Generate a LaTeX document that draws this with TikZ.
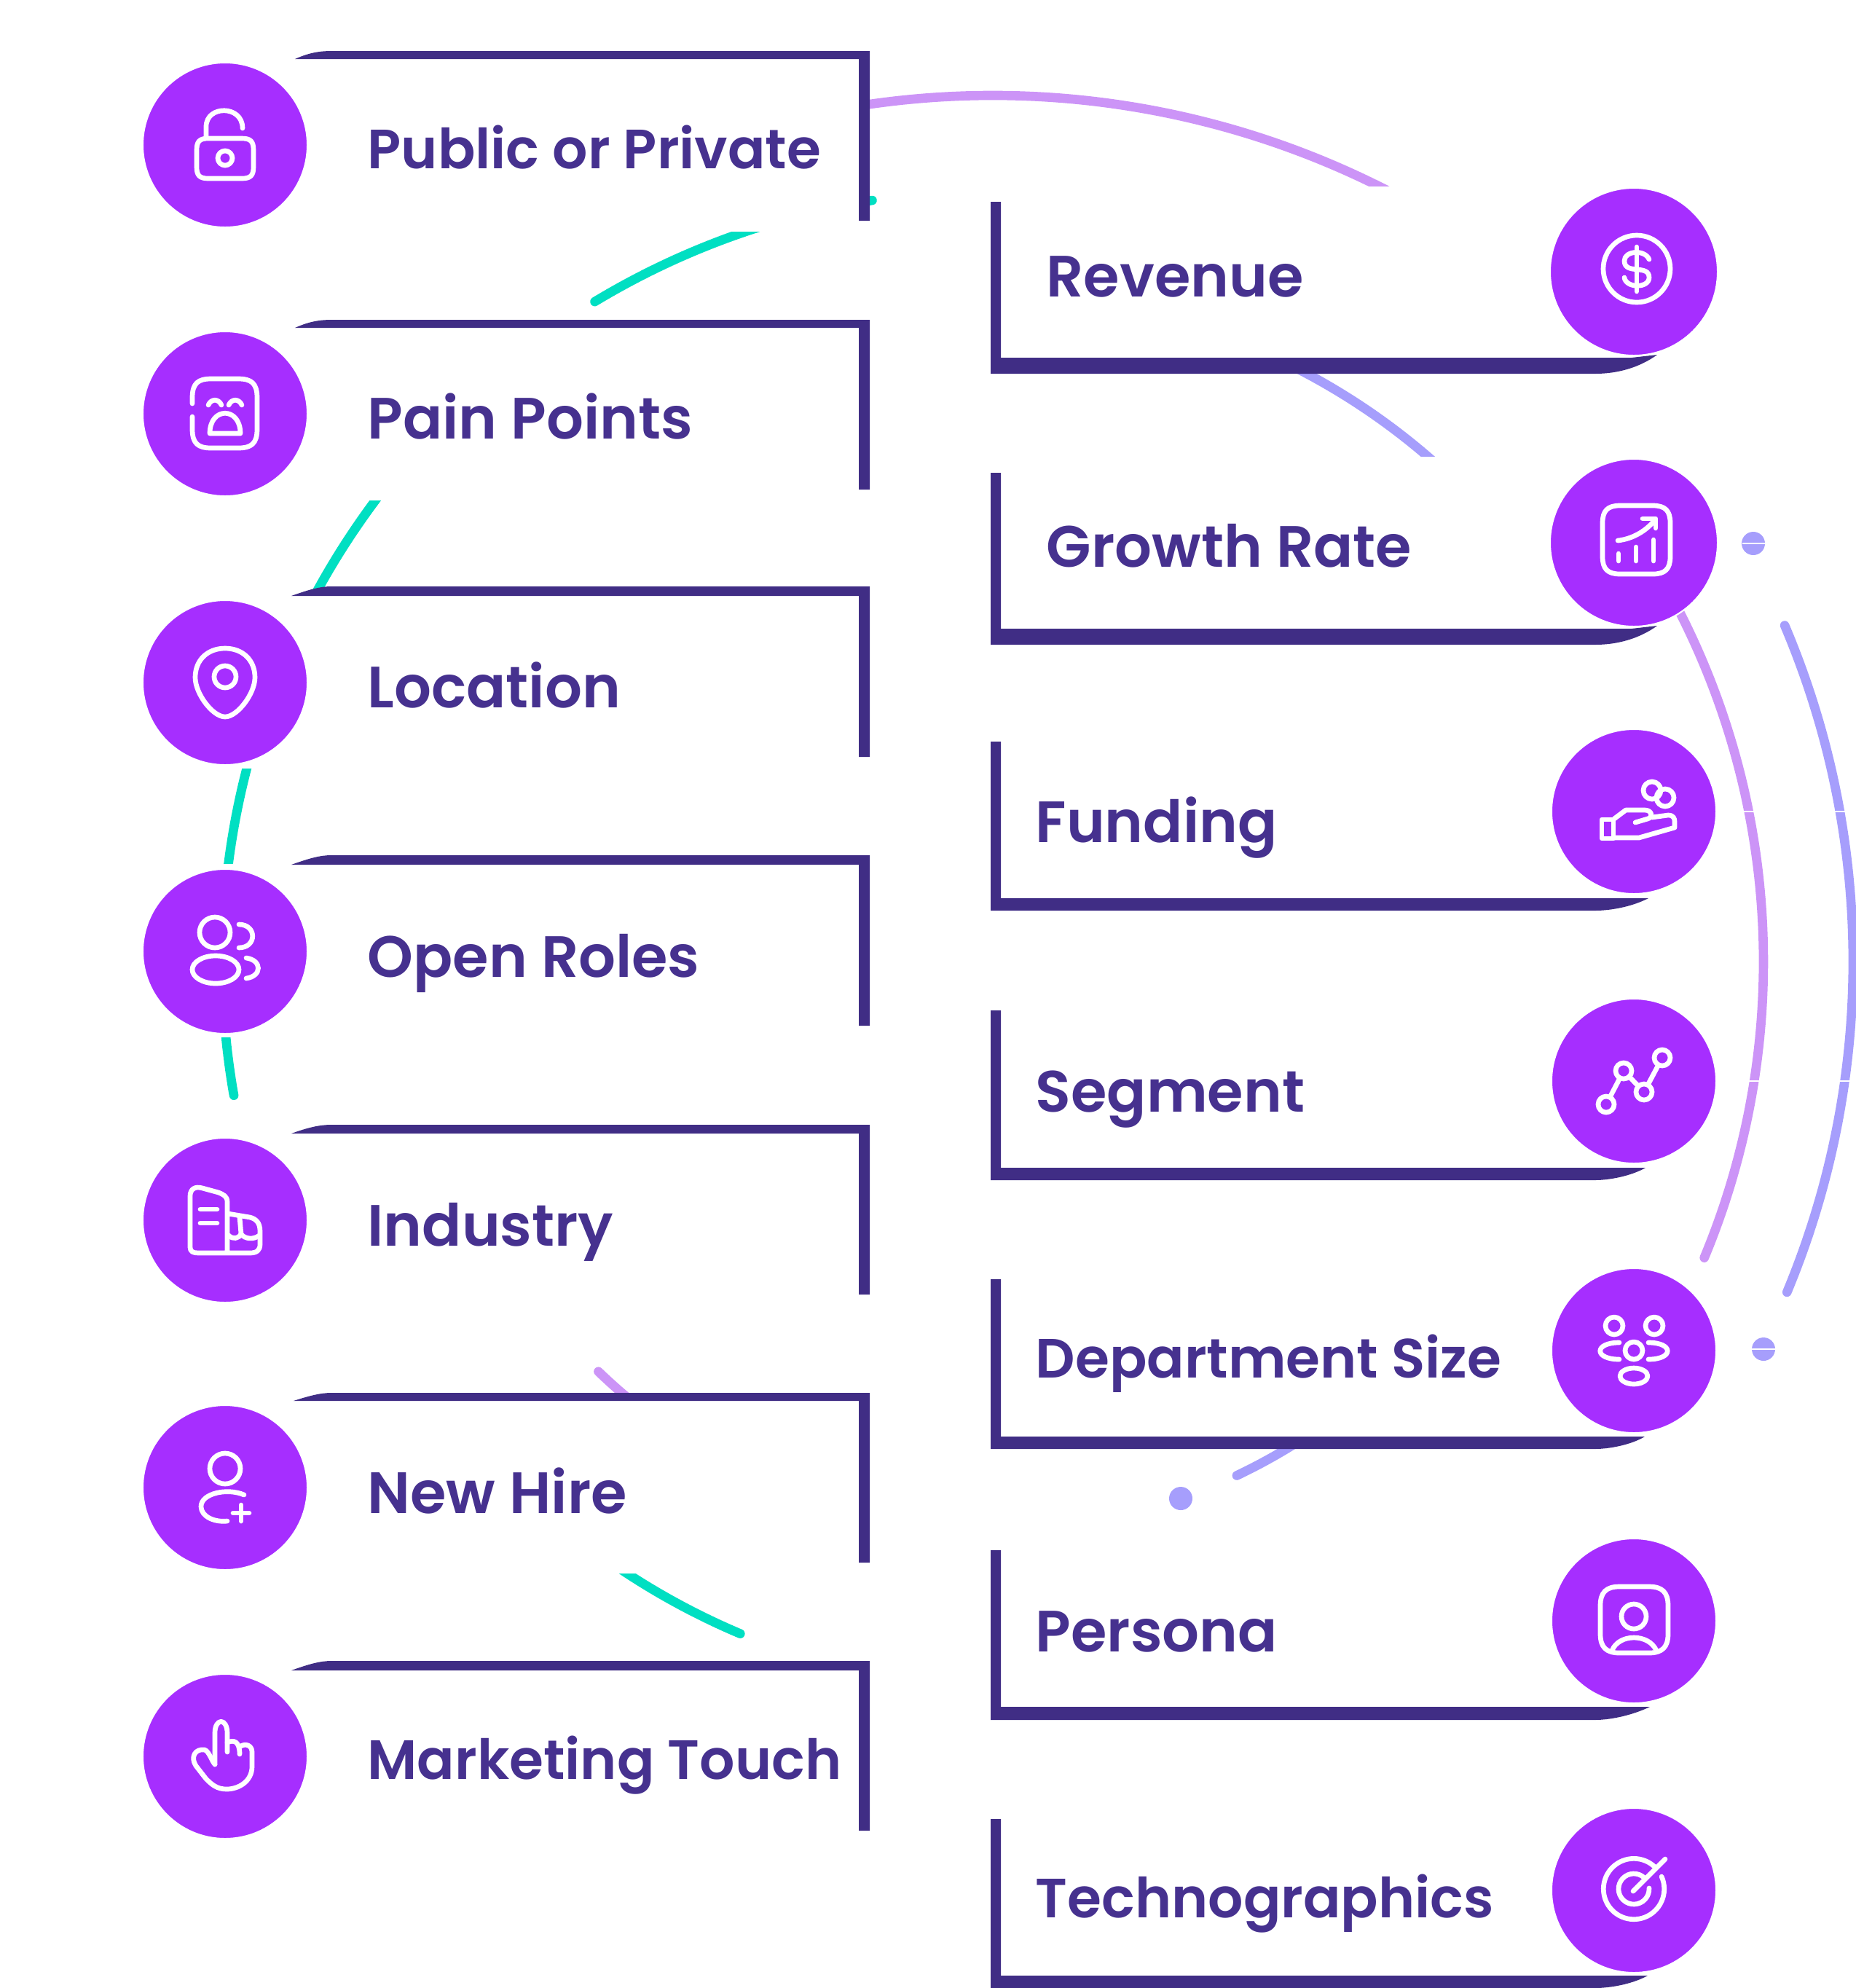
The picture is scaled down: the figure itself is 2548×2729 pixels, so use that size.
\documentclass[tikz,border=0pt]{standalone}
\usepackage{fontspec}
\setmainfont{Poppins}[UprightFont=* SemiBold]
\definecolor{iconpurple}{HTML}{A62EFF}
\definecolor{barnavy}{HTML}{402D85}
\definecolor{labelnavy}{HTML}{46318F}
\definecolor{orbitteal}{HTML}{00DFC2}
\definecolor{orbitlilac}{HTML}{CC94F7}
\definecolor{orbitblue}{HTML}{A69EFC}
\tikzset{
  iconcirc/.style={circle,fill=iconpurple,draw=white,line width=0.6pt,minimum size=2.26cm,inner sep=0},
  labeltext/.style={anchor=base west,inner sep=0,text=labelnavy,font=\fontsize{22.75}{26}\selectfont},
  smalltext/.style={labeltext,font=\fontsize{21.6}{26}\selectfont},
  cardbg/.style={fill=white},
  barfill/.style={fill=barnavy},
  iconline/.style={draw=white,line width=1.9pt,line cap=round,line join=round},
  orbitarc/.style={line width=3.6pt,line cap=round},
  seam/.style={draw=white,line width=0.5pt}
}
\begin{document}
\begin{tikzpicture}[x=0.01cm,y=-0.01cm]
\useasboundingbox (0,0) rectangle (2548,2729);
\coordinate (orbit) at (1363,1320);
\coordinate (orbitlow) at (1398,1339);
\draw[orbitarc,orbitteal] ([shift={(261:1058)}]orbit) arc[start angle=261,end angle=238.9,radius=1058];
\draw[orbitarc,orbitteal] ([shift={(225:1058)}]orbit) arc[start angle=225,end angle=170,radius=1058];
\draw[orbitarc,orbitteal] ([shift={(128:981)}]orbitlow) arc[start angle=128,end angle=112.9,radius=981];
\draw[orbitarc,orbitlilac] ([shift={(-100:1189)}]orbit) arc[start angle=-100,end angle=-60,radius=1189];
\draw[orbitarc,orbitlilac] ([shift={(-30:1058)}]orbit) arc[start angle=-30,end angle=22.6,radius=1058];
\draw[orbitarc,orbitlilac] ([shift={(125:781)}]orbit) arc[start angle=125,end angle=133.9,radius=781];
\draw[orbitarc,orbitblue] ([shift={(-65:915)}]orbit) arc[start angle=-65,end angle=-45,radius=915];
\draw[orbitarc,orbitblue] ([shift={(-23:1181)}]orbit) arc[start angle=-23,end angle=22.6,radius=1181];
\draw[orbitarc,orbitblue] ([shift={(55:781)}]orbit) arc[start angle=55,end angle=64.6,radius=781];
\fill[orbitblue] (2407,746) circle (16);
\fill[orbitblue] (2421,1852) circle (16);
\fill[orbitblue] (1621,2057) circle (16);
\draw[seam] (2392,746) -- (2423,746);
\draw[seam] (2405,1852) -- (2437,1852);
\draw[seam] (2392,1114) -- (2410,1114);
\draw[seam] (2400,1484) -- (2418,1484);
\draw[seam] (2518,1114) -- (2536,1114);
\draw[seam] (2522,1484) -- (2540,1484);
\fill[cardbg] (197,80) rectangle (1194,318);
\fill[cardbg] (197,449) rectangle (1194,687);
\fill[cardbg] (197,818) rectangle (1194,1055);
\fill[cardbg] (197,1186) rectangle (1194,1424);
\fill[cardbg] (197,1555) rectangle (1194,1793);
\fill[cardbg] (197,1923) rectangle (1194,2160);
\fill[cardbg] (197,2289) rectangle (1194,2527);
\fill[cardbg] (1360,256) rectangle (2280,513);
\fill[cardbg] (1360,627) rectangle (2280,885);
\fill[cardbg] (1360,997) rectangle (2280,1250);
\fill[cardbg] (1360,1366) rectangle (2280,1620);
\fill[cardbg] (1360,1735) rectangle (2280,1989);
\fill[cardbg] (1360,2107) rectangle (2280,2361);
\fill[cardbg] (1360,2476) rectangle (2280,2729);
\fill[barfill] (405,81) .. controls (425,72) and (440,70) .. (455,70) -- (1194,70) -- (1194,303) -- (1179,303) -- (1179,81) -- cycle;
\fill[barfill] (405,450) .. controls (425,441) and (440,439) .. (455,439) -- (1194,439) -- (1194,672) -- (1179,672) -- (1179,450) -- cycle;
\fill[barfill] (400,818) .. controls (425,809) and (440,805) .. (455,805) -- (1194,805) -- (1194,1039) -- (1179,1039) -- (1179,818) -- cycle;
\fill[barfill] (400,1187) .. controls (425,1178) and (440,1174) .. (455,1174) -- (1194,1174) -- (1194,1408) -- (1179,1408) -- (1179,1187) -- cycle;
\fill[barfill] (400,1556) .. controls (425,1547) and (440,1544) .. (455,1544) -- (1194,1544) -- (1194,1777) -- (1179,1777) -- (1179,1556) -- cycle;
\fill[barfill] (403,1923) .. controls (425,1916) and (440,1912) .. (455,1912) -- (1194,1912) -- (1194,2145) -- (1179,2145) -- (1179,1923) -- cycle;
\fill[barfill] (400,2293) .. controls (425,2284) and (440,2280) .. (455,2280) -- (1194,2280) -- (1194,2513) -- (1179,2513) -- (1179,2293) -- cycle;
\fill[barfill] (1360,277) -- (1374,277) -- (1374,491) -- (2240,491) -- (2275,487) .. controls (2250,505) and (2220,513) .. (2190,513) -- (1360,513) -- cycle;
\fill[barfill] (1360,649) -- (1374,649) -- (1374,863) -- (2240,863) -- (2275,859) .. controls (2250,877) and (2220,885) .. (2190,885) -- (1360,885) -- cycle;
\fill[barfill] (1360,1018) -- (1374,1018) -- (1374,1233) -- (2263,1233) .. controls (2240,1245) and (2210,1250) .. (2190,1250) -- (1360,1250) -- cycle;
\fill[barfill] (1360,1387) -- (1374,1387) -- (1374,1603) -- (2259,1603) .. controls (2240,1614) and (2210,1620) .. (2190,1620) -- (1360,1620) -- cycle;
\fill[barfill] (1360,1756) -- (1374,1756) -- (1374,1972) -- (2258,1972) .. controls (2240,1983) and (2210,1989) .. (2190,1989) -- (1360,1989) -- cycle;
\fill[barfill] (1360,2128) -- (1374,2128) -- (1374,2343) -- (2265,2343) .. controls (2240,2355) and (2210,2361) .. (2190,2361) -- (1360,2361) -- cycle;
\fill[barfill] (1360,2497) -- (1374,2497) -- (1374,2712) -- (2262,2712) .. controls (2240,2724) and (2210,2729) .. (2190,2729) -- (1360,2729) -- cycle;
\node[iconcirc] (publiccirc) at (309,199) {};
\node[iconcirc] (paincirc) at (309,568) {};
\node[iconcirc] (locationcirc) at (309,937) {};
\node[iconcirc] (rolescirc) at (309,1306) {};
\node[iconcirc] (industrycirc) at (309,1675) {};
\node[iconcirc] (hirecirc) at (309,2042) {};
\node[iconcirc] (touchcirc) at (309,2411) {};
\node[iconcirc,minimum size=2.30cm] (revenuecirc) at (2243,373) {};
\node[iconcirc,minimum size=2.30cm] (growthcirc) at (2243,745) {};
\node[iconcirc] (fundingcirc) at (2243,1114) {};
\node[iconcirc] (segmentcirc) at (2243,1484) {};
\node[iconcirc] (deptcirc) at (2243,1854) {};
\node[iconcirc] (personacirc) at (2243,2225) {};
\node[iconcirc] (technocirc) at (2243,2595) {};
\draw[iconline] (270,206) .. controls (270,194) and (274,190) .. (286,190) -- (332,190) .. controls (344,190) and (348,194) .. (348,206) -- (348,229) .. controls (348,241) and (344,245) .. (332,245) -- (286,245) .. controls (274,245) and (270,241) .. (270,229) -- cycle;
\draw[iconline] (283,188) -- (283,174) .. controls (283,144) and (333,144) .. (333,176);
\draw[iconline] (309,217) circle (10);
\draw[iconline] (264,554) -- (264,546) .. controls (264,526) and (272,520) .. (290,520) -- (327,520) .. controls (345,520) and (353,526) .. (353,546) -- (353,589) .. controls (353,609) and (345,615) .. (327,615) -- (290,615) .. controls (272,615) and (264,609) .. (264,589) -- (264,572);
\draw[iconline] (286,556) .. controls (290,547) and (300,547) .. (304,556);
\draw[iconline] (314,556) .. controls (318,547) and (328,547) .. (332,556);
\draw[iconline] (288,595) .. controls (288,558) and (330,558) .. (330,595) -- cycle;
\draw[iconline] (309,890) .. controls (333,890) and (350,906) .. (350,930) .. controls (350,952) and (326,984) .. (309,984) .. controls (292,984) and (268,952) .. (268,930) .. controls (268,906) and (285,890) .. (309,890) -- cycle;
\draw[iconline] (309,929) circle (15);
\draw[iconline] (295,1280) circle (21);
\draw[iconline] (296,1331) ellipse (32 and 19);
\draw[iconline] (328,1269) .. controls (353,1269) and (353,1301) .. (328,1301);
\draw[iconline] (338,1315) .. controls (360,1318) and (360,1340) .. (338,1343);
\draw[iconline] (312,1720) -- (312,1650) .. controls (312,1642) and (307,1640) .. (300,1637) -- (278,1631) .. controls (268,1628) and (261,1632) .. (261,1642) -- (261,1712) .. controls (261,1718) and (265,1720) .. (272,1720) -- (343,1720) .. controls (353,1720) and (357,1716) .. (357,1708) -- (357,1690) .. controls (357,1678) and (351,1673) .. (343,1671) -- (313,1666);
\draw[iconline] (275,1660) -- (298,1660);
\draw[iconline] (275,1679) -- (298,1679);
\draw[iconline] (314,1696) .. controls (320,1702) and (328,1700) .. (331,1694) .. controls (336,1701) and (348,1702) .. (356,1696);
\draw[iconline] (329,1671) -- (331,1694);
\draw[iconline] (309,2016) circle (21);
\draw[iconline] (335,2052) .. controls (312,2042) and (276,2050) .. (276,2068) .. controls (276,2082) and (295,2090) .. (312,2088);
\draw[iconline] (320,2077) -- (342,2077);
\draw[iconline] (331,2066) -- (331,2088);
\draw[iconline] (295,2422) -- (295,2379) .. controls (295,2358) and (312,2358) .. (312,2379) -- (312,2405);
\draw[iconline] (312,2392) .. controls (321,2388) and (329,2390) .. (329,2408);
\draw[iconline] (329,2398) .. controls (337,2392) and (346,2396) .. (346,2405) -- (346,2425) .. controls (346,2445) and (328,2456) .. (311,2456) .. controls (298,2456) and (291,2450) .. (283,2442) -- (269,2424) .. controls (261,2412) and (268,2400) .. (281,2402) .. controls (287,2404) and (291,2418) .. (295,2422);
\draw[iconline] (2247,369) circle (46);
\draw[iconline] (2247,339) -- (2247,400);
\draw[iconline] (2264,356) .. controls (2258,342) and (2230,344) .. (2230,358) .. controls (2230,378) and (2264,362) .. (2264,381) .. controls (2264,396) and (2232,396) .. (2230,381);
\draw[iconline] (2224,694) -- (2269,694) .. controls (2286,694) and (2293,701) .. (2293,718) -- (2293,764) .. controls (2293,781) and (2286,788) .. (2269,788) -- (2224,788) .. controls (2207,788) and (2200,781) .. (2200,764) -- (2200,718) .. controls (2200,701) and (2207,694) .. (2224,694) -- cycle;
\draw[iconline] (2221,742) .. controls (2240,740) and (2258,730) .. (2270,716);
\draw[iconline] (2255,712) -- (2273,712) -- (2273,725);
\draw[iconline] (2222,760) -- (2222,770);
\draw[iconline] (2246,751) -- (2246,770);
\draw[iconline] (2270,741) -- (2270,770);
\draw[iconline] (2268,1085) circle (12);
\draw[iconline] (2286,1095) circle (12);
\draw[iconline] (2199,1125) rectangle (2215,1151);
\draw[iconline] (2216,1124) -- (2232,1112) -- (2258,1112) .. controls (2268,1112) and (2270,1122) .. (2262,1124) -- (2245,1129);
\draw[iconline] (2268,1122) -- (2290,1119) .. controls (2298,1119) and (2299,1124) .. (2299,1128) -- (2299,1136) -- (2250,1150) -- (2216,1150);
\draw[iconline] (2205,1516) -- (2229,1470) -- (2257,1499) -- (2282,1452);
\draw[iconline,fill=iconpurple] (2205,1516) circle (11);
\draw[iconline,fill=iconpurple] (2229,1470) circle (11);
\draw[iconline,fill=iconpurple] (2257,1499) circle (11);
\draw[iconline,fill=iconpurple] (2282,1452) circle (11);
\draw[iconline] (2216,1820) circle (12);
\draw[iconline] (2271,1820) circle (12);
\draw[iconline] (2243,1854) circle (12);
\draw[iconline] (2243,1889) ellipse (19 and 11);
\draw[iconline] (2223,1843) .. controls (2188,1843) and (2188,1866) .. (2223,1866);
\draw[iconline] (2263,1843) .. controls (2298,1843) and (2298,1866) .. (2263,1866);
\draw[iconline] (2223,2178) -- (2264,2178) .. controls (2282,2178) and (2290,2186) .. (2290,2204) -- (2290,2243) .. controls (2290,2261) and (2282,2269) .. (2264,2269) -- (2223,2269) .. controls (2205,2269) and (2197,2261) .. (2197,2243) -- (2197,2204) .. controls (2197,2186) and (2205,2178) .. (2223,2178) -- cycle;
\draw[iconline] (2243,2219) circle (17);
\draw[iconline] (2213,2266) .. controls (2222,2242) and (2264,2242) .. (2274,2266);
\draw[iconline] (2242,2596) -- (2286,2552);
\draw[iconline] ([shift={(-44:41.7)}]2243,2593) arc[start angle=-44,end angle=-384,radius=41.7];
\draw[iconline] ([shift={(-47:21)}]2243,2593) arc[start angle=-47,end angle=-363,radius=21];
\node[smalltext] (publiclab) at (504,231) {Public or Private};
\node[labeltext] (painlab) at (504,602) {Pain Points};
\node[labeltext] (locationlab) at (504,971) {Location};
\node[labeltext] (roleslab) at (504,1341) {Open Roles};
\node[labeltext] (industrylab) at (504,1710) {Industry};
\node[labeltext] (hirelab) at (504,2077) {New Hire};
\node[smalltext] (touchlab) at (504,2442) {Marketing Touch};
\node[labeltext] (revenuelab) at (1436,407) {Revenue};
\node[labeltext] (growthlab) at (1436,778) {Growth Rate};
\node[labeltext] (fundinglab) at (1421,1156) {Funding};
\node[labeltext] (segmentlab) at (1421,1526) {Segment};
\node[smalltext] (deptlab) at (1421,1891) {Department Size};
\node[labeltext] (personalab) at (1421,2267) {Persona};
\node[smalltext] (technolab) at (1421,2632) {Technographics};
\end{tikzpicture}
\end{document}
